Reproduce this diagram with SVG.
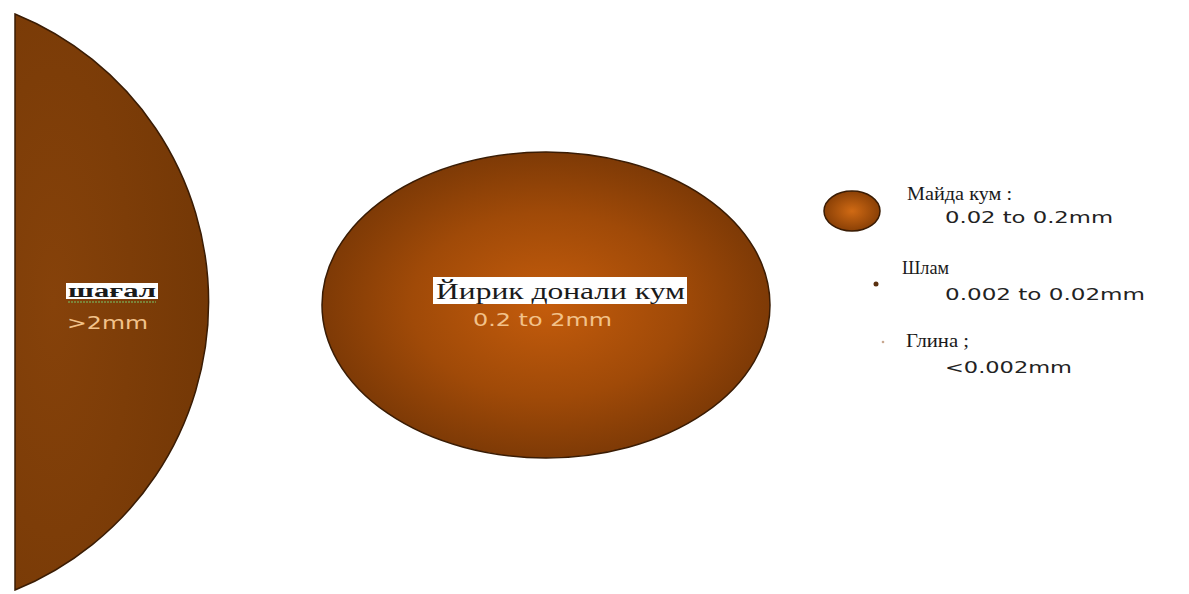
<svg xmlns="http://www.w3.org/2000/svg" width="1189" height="594" viewBox="0 0 1189 594">
<defs>
<radialGradient id="gBig" cx="50%" cy="50%" r="50%">
<stop offset="0" stop-color="#c45c0c"/>
<stop offset="0.6" stop-color="#a04a08"/>
<stop offset="1" stop-color="#7e3a06"/>
</radialGradient>
<radialGradient id="gHalf" cx="20%" cy="50%" r="80%">
<stop offset="0" stop-color="#86420a"/>
<stop offset="1" stop-color="#743806"/>
</radialGradient>
<radialGradient id="gSmall" cx="50%" cy="50%" r="50%">
<stop offset="0" stop-color="#d06a14"/>
<stop offset="1" stop-color="#8a4006"/>
</radialGradient>
<style>
.lab{font-family:"Liberation Serif",serif;fill:#1a1a1a}
.num{font-family:"DejaVu Sans","Liberation Sans",sans-serif;fill:#222}
.numL{font-family:"DejaVu Sans","Liberation Sans",sans-serif;fill:#f2c28a}
</style>
</defs>
<rect width="1189" height="594" fill="#ffffff"/>
<g id="gravel">
<path d="M15,14 A311,311 0 0 1 15,590 Z" fill="url(#gHalf)" stroke="#3a1c04" stroke-width="1.5"/>
<rect x="66" y="283" width="92" height="16" fill="#ffffff"/>
<text class="lab" x="68" y="297" font-size="18" font-weight="bold" fill="#1a2a3a" textLength="88" lengthAdjust="spacingAndGlyphs">шағал</text>
<line x1="68" y1="302" x2="156" y2="302" stroke="#7a9a4a" stroke-width="1.5" stroke-dasharray="2,1"/>
<text class="numL" x="67" y="329" font-size="17" textLength="81" lengthAdjust="spacingAndGlyphs">&gt;2mm</text>
</g>
<g id="coarse">
<ellipse cx="546" cy="305" rx="224" ry="153" fill="url(#gBig)" stroke="#3a1c04" stroke-width="1.5"/>
<rect x="433" y="277" width="254" height="27" fill="#ffffff"/>
<text class="lab" x="436" y="299" font-size="23" textLength="249" lengthAdjust="spacingAndGlyphs">Йирик донали кум</text>
<text class="numL" x="473" y="326" font-size="17" textLength="139" lengthAdjust="spacingAndGlyphs">0.2 to 2mm</text>
</g>
<g id="fine">
<ellipse cx="852" cy="211" rx="28" ry="20" fill="url(#gSmall)" stroke="#3a1c04" stroke-width="1.5"/>
<text class="lab" x="907" y="200" font-size="19" textLength="105" lengthAdjust="spacingAndGlyphs">Майда кум :</text>
<text class="num" x="945" y="223" font-size="16" textLength="168" lengthAdjust="spacingAndGlyphs">0.02 to 0.2mm</text>
</g>
<g id="silt">
<circle cx="876" cy="284" r="2.5" fill="#5a3010"/>
<text class="lab" x="902" y="274" font-size="19" textLength="47" lengthAdjust="spacingAndGlyphs">Шлам</text>
<text class="num" x="945" y="300" font-size="16" textLength="200" lengthAdjust="spacingAndGlyphs">0.002 to 0.02mm</text>
</g>
<g id="clay">
<circle cx="883" cy="342" r="1.3" fill="#c8a890"/>
<text class="lab" x="906" y="347" font-size="19" textLength="63" lengthAdjust="spacingAndGlyphs">Глина ;</text>
<text class="num" x="945" y="373" font-size="16" textLength="127" lengthAdjust="spacingAndGlyphs">&lt;0.002mm</text>
</g>
<g id="connectors"/>
</svg>
